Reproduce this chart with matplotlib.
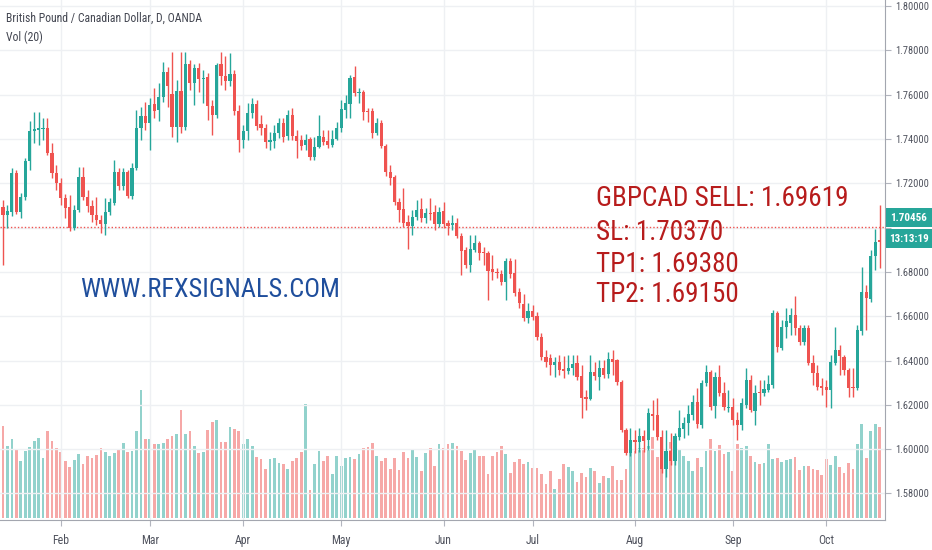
import numpy as np
import pandas as pd
import matplotlib
matplotlib.use("Agg")
import matplotlib.pyplot as plt
import matplotlib.transforms as mtrans
from matplotlib.patches import Rectangle

# GBPCAD daily, OANDA
opens = [1.7093, 1.7057, 1.7071, 1.7247, 1.7071, 1.7139, 1.7301, 1.7437, 1.7441, 1.7446,
         1.7450, 1.7337, 1.7247, 1.7202, 1.7134, 1.7093, 1.6999, 1.7080, 1.7229, 1.7139,
         1.7098, 1.7057, 1.7035, 1.7017, 1.7071, 1.7111, 1.7251, 1.7188, 1.7251, 1.7143,
         1.7270, 1.7450, 1.7504, 1.7473, 1.7558, 1.7531, 1.7590, 1.7703, 1.7604, 1.7455,
         1.7617, 1.7455, 1.7739, 1.7653, 1.7721, 1.7671, 1.7680, 1.7549, 1.7509, 1.7739,
         1.7685, 1.7662, 1.7694, 1.7527, 1.7396, 1.7437, 1.7518, 1.7558, 1.7468, 1.7450,
         1.7387, 1.7391, 1.7428, 1.7473, 1.7414, 1.7509, 1.7414, 1.7396, 1.7373, 1.7400,
         1.7319, 1.7364, 1.7409, 1.7391, 1.7373, 1.7400, 1.7450, 1.7531, 1.7558, 1.7680,
         1.7608, 1.7613, 1.7527, 1.7527, 1.7428, 1.7473, 1.7369, 1.7251, 1.7229, 1.7116,
         1.7084, 1.7026, 1.7008, 1.7048, 1.7084, 1.7044, 1.7066, 1.7071, 1.7017, 1.7075,
         1.7021, 1.7012, 1.7021, 1.6962, 1.6899, 1.6832, 1.6899, 1.6931, 1.6890, 1.6886,
         1.6813, 1.6800, 1.6791, 1.6755, 1.6850, 1.6795, 1.6710, 1.6655, 1.6592, 1.6624,
         1.6601, 1.6506, 1.6416, 1.6412, 1.6380, 1.6394, 1.6362, 1.6353, 1.6366, 1.6389,
         1.6330, 1.6236, 1.6227, 1.6348, 1.6326, 1.6366, 1.6339, 1.6407, 1.6403, 1.6303,
         1.6087, 1.5983, 1.6041, 1.6032, 1.6059, 1.6041, 1.6159, 1.6154, 1.6055, 1.5910,
         1.5992, 1.5947, 1.6055, 1.6091, 1.6118, 1.6154, 1.6213, 1.6109, 1.6299, 1.6348,
         1.6195, 1.6326, 1.6254, 1.6186, 1.6190, 1.6132, 1.6109, 1.6199, 1.6312, 1.6172,
         1.6258, 1.6254, 1.6267, 1.6290, 1.6615, 1.6457, 1.6552, 1.6570, 1.6606, 1.6547,
         1.6484, 1.6547, 1.6389, 1.6344, 1.6285, 1.6281, 1.6267, 1.6389, 1.6448, 1.6416,
         1.6357, 1.6281, 1.6276, 1.6534, 1.6710, 1.6678, 1.6872, 1.6944]
highs = [1.7125, 1.7102, 1.7270, 1.7260, 1.7157, 1.7315, 1.7482, 1.7522, 1.7522, 1.7495,
         1.7495, 1.7382, 1.7283, 1.7224, 1.7152, 1.7148, 1.7102, 1.7274, 1.7274, 1.7170,
         1.7125, 1.7139, 1.7057, 1.7134, 1.7134, 1.7306, 1.7270, 1.7270, 1.7260, 1.7292,
         1.7531, 1.7545, 1.7567, 1.7586, 1.7631, 1.7653, 1.7748, 1.7726, 1.7793, 1.7667,
         1.7793, 1.7793, 1.7757, 1.7739, 1.7744, 1.7712, 1.7698, 1.7577, 1.7744, 1.7793,
         1.7775, 1.7789, 1.7712, 1.7554, 1.7464, 1.7563, 1.7586, 1.7577, 1.7509, 1.7468,
         1.7432, 1.7464, 1.7495, 1.7495, 1.7531, 1.7540, 1.7441, 1.7419, 1.7423, 1.7409,
         1.7409, 1.7509, 1.7441, 1.7441, 1.7441, 1.7477, 1.7577, 1.7599, 1.7689, 1.7730,
         1.7631, 1.7622, 1.7540, 1.7540, 1.7495, 1.7486, 1.7378, 1.7283, 1.7238, 1.7134,
         1.7179, 1.7057, 1.7080, 1.7125, 1.7134, 1.7089, 1.7134, 1.7102, 1.7093, 1.7116,
         1.7035, 1.7057, 1.7044, 1.6976, 1.6913, 1.6967, 1.6967, 1.6940, 1.6913, 1.6895,
         1.6877, 1.6818, 1.6809, 1.6863, 1.6863, 1.6859, 1.6728, 1.6701, 1.6660, 1.6651,
         1.6619, 1.6525, 1.6448, 1.6430, 1.6416, 1.6425, 1.6421, 1.6425, 1.6425, 1.6425,
         1.6380, 1.6267, 1.6425, 1.6394, 1.6403, 1.6403, 1.6439, 1.6448, 1.6407, 1.6312,
         1.6096, 1.6096, 1.6087, 1.6096, 1.6087, 1.6186, 1.6222, 1.6231, 1.6087, 1.6087,
         1.6073, 1.6073, 1.6177, 1.6145, 1.6199, 1.6245, 1.6276, 1.6312, 1.6380, 1.6357,
         1.6348, 1.6380, 1.6303, 1.6267, 1.6231, 1.6168, 1.6231, 1.6366, 1.6335, 1.6290,
         1.6312, 1.6312, 1.6335, 1.6628, 1.6624, 1.6583, 1.6637, 1.6637, 1.6692, 1.6561,
         1.6561, 1.6561, 1.6425, 1.6380, 1.6321, 1.6312, 1.6425, 1.6552, 1.6470, 1.6425,
         1.6366, 1.6366, 1.6561, 1.6823, 1.6741, 1.6899, 1.6994, 1.7102]
lows = [1.6832, 1.6999, 1.7053, 1.7062, 1.7044, 1.7125, 1.7260, 1.7382, 1.7373, 1.7396,
        1.7328, 1.7224, 1.7170, 1.7102, 1.7044, 1.6985, 1.6990, 1.7071, 1.7125, 1.7071,
        1.7026, 1.7012, 1.6976, 1.6967, 1.7057, 1.7102, 1.7170, 1.7170, 1.7134, 1.7130,
        1.7260, 1.7396, 1.7441, 1.7351, 1.7495, 1.7482, 1.7567, 1.7545, 1.7409, 1.7387,
        1.7428, 1.7441, 1.7622, 1.7554, 1.7613, 1.7563, 1.7486, 1.7419, 1.7495, 1.7644,
        1.7622, 1.7640, 1.7509, 1.7342, 1.7360, 1.7396, 1.7495, 1.7441, 1.7419, 1.7360,
        1.7351, 1.7360, 1.7405, 1.7387, 1.7396, 1.7396, 1.7315, 1.7351, 1.7351, 1.7306,
        1.7306, 1.7360, 1.7373, 1.7360, 1.7364, 1.7396, 1.7432, 1.7495, 1.7495, 1.7595,
        1.7563, 1.7486, 1.7477, 1.7405, 1.7419, 1.7360, 1.7233, 1.7193, 1.7102, 1.7026,
        1.7003, 1.6904, 1.6967, 1.7035, 1.7026, 1.7021, 1.7035, 1.6990, 1.7003, 1.6999,
        1.6967, 1.6990, 1.6953, 1.6786, 1.6818, 1.6800, 1.6890, 1.6854, 1.6832, 1.6674,
        1.6764, 1.6773, 1.6741, 1.6674, 1.6773, 1.6692, 1.6637, 1.6579, 1.6570, 1.6583,
        1.6493, 1.6403, 1.6371, 1.6335, 1.6326, 1.6335, 1.6321, 1.6339, 1.6335, 1.6312,
        1.6141, 1.6177, 1.6222, 1.6312, 1.6267, 1.6321, 1.6321, 1.6335, 1.6290, 1.6078,
        1.5974, 1.5969, 1.5983, 1.5987, 1.5987, 1.5996, 1.6087, 1.6041, 1.5892, 1.5874,
        1.5929, 1.5929, 1.6041, 1.6050, 1.6064, 1.6132, 1.6096, 1.6096, 1.6285, 1.6177,
        1.6141, 1.6240, 1.6177, 1.6168, 1.6109, 1.6041, 1.6087, 1.6186, 1.6168, 1.6109,
        1.6199, 1.6240, 1.6258, 1.6276, 1.6439, 1.6448, 1.6502, 1.6516, 1.6516, 1.6470,
        1.6470, 1.6380, 1.6290, 1.6267, 1.6245, 1.6190, 1.6186, 1.6380, 1.6335, 1.6335,
        1.6236, 1.6236, 1.6267, 1.6516, 1.6538, 1.6664, 1.6809, 1.6818]
closes = [1.7057, 1.7075, 1.7247, 1.7071, 1.7139, 1.7301, 1.7437, 1.7446, 1.7450, 1.7450,
          1.7337, 1.7247, 1.7202, 1.7134, 1.7089, 1.6999, 1.7080, 1.7229, 1.7139, 1.7098,
          1.7057, 1.7035, 1.7017, 1.7071, 1.7116, 1.7251, 1.7188, 1.7251, 1.7143, 1.7270,
          1.7450, 1.7504, 1.7473, 1.7554, 1.7527, 1.7590, 1.7703, 1.7640, 1.7455, 1.7617,
          1.7455, 1.7739, 1.7653, 1.7721, 1.7671, 1.7676, 1.7549, 1.7509, 1.7735, 1.7685,
          1.7662, 1.7694, 1.7527, 1.7396, 1.7437, 1.7518, 1.7558, 1.7459, 1.7450, 1.7387,
          1.7396, 1.7428, 1.7473, 1.7409, 1.7509, 1.7414, 1.7391, 1.7369, 1.7396, 1.7319,
          1.7364, 1.7414, 1.7387, 1.7373, 1.7400, 1.7450, 1.7536, 1.7563, 1.7676, 1.7608,
          1.7613, 1.7522, 1.7522, 1.7428, 1.7473, 1.7369, 1.7251, 1.7224, 1.7116, 1.7080,
          1.7021, 1.7008, 1.7048, 1.7080, 1.7044, 1.7066, 1.7062, 1.7017, 1.7071, 1.7017,
          1.7008, 1.7021, 1.6962, 1.6895, 1.6832, 1.6904, 1.6931, 1.6886, 1.6886, 1.6804,
          1.6800, 1.6795, 1.6755, 1.6850, 1.6791, 1.6705, 1.6660, 1.6592, 1.6624, 1.6597,
          1.6506, 1.6416, 1.6394, 1.6380, 1.6394, 1.6357, 1.6353, 1.6366, 1.6385, 1.6326,
          1.6231, 1.6227, 1.6348, 1.6330, 1.6366, 1.6335, 1.6407, 1.6394, 1.6303, 1.6087,
          1.5983, 1.6041, 1.6032, 1.6059, 1.6037, 1.6163, 1.6150, 1.6055, 1.5910, 1.5992,
          1.5947, 1.6059, 1.6096, 1.6118, 1.6159, 1.6213, 1.6114, 1.6299, 1.6348, 1.6190,
          1.6326, 1.6254, 1.6190, 1.6190, 1.6132, 1.6109, 1.6208, 1.6312, 1.6177, 1.6254,
          1.6254, 1.6272, 1.6294, 1.6615, 1.6461, 1.6552, 1.6579, 1.6606, 1.6547, 1.6484,
          1.6547, 1.6389, 1.6344, 1.6281, 1.6276, 1.6267, 1.6394, 1.6448, 1.6421, 1.6357,
          1.6276, 1.6276, 1.6538, 1.6710, 1.6683, 1.6872, 1.6935, 1.6935]
volumes = [278, 217, 238, 208, 171, 202, 214, 232, 241, 181, 261, 232, 211, 199, 172, 155,
           175, 192, 162, 188, 182, 191, 211, 198, 188, 195, 208, 225, 199, 202, 261, 385,
           238, 238, 222, 222, 225, 238, 248, 252, 325, 252, 261, 218, 195, 198, 265, 288,
           295, 228, 228, 275, 268, 261, 222, 238, 218, 185, 178, 148, 178, 181, 165, 162,
           148, 171, 182, 198, 342, 85, 162, 202, 172, 188, 132, 188, 158, 182, 185, 178,
           192, 212, 215, 225, 188, 172, 182, 148, 182, 145, 198, 182, 205, 185, 142, 195,
           212, 158, 222, 212, 222, 225, 218, 202, 175, 195, 205, 188, 188, 132, 188, 198,
           218, 192, 135, 168, 178, 162, 168, 152, 152, 132, 102, 142, 88, 118, 162, 155,
           142, 108, 135, 125, 150, 142, 105, 128, 120, 158, 115, 115, 148, 195, 202, 210,
           212, 218, 245, 185, 162, 200, 230, 220, 205, 188, 172, 142, 182, 155, 202, 238,
           202, 220, 192, 198, 142, 222, 212, 217, 188, 168, 162, 165, 222, 178, 182, 168,
           175, 178, 185, 145, 158, 158, 148, 145, 130, 178, 160, 188, 155, 135, 165, 148,
           222, 282, 180, 262, 282, 275]
dates = pd.bdate_range("2019-01-15", periods=len(closes))

price_ticks = [1.58, 1.60, 1.62, 1.64, 1.66, 1.68, 1.70, 1.72, 1.74, 1.76, 1.78, 1.80]
last_price = 1.70456
countdown = "13:13:19"
line_level = 1.7002

title = "British Pound / Canadian Dollar, D, OANDA"
vol_title = "Vol (20)"
signal_lines = ["GBPCAD SELL: 1.69619", "SL: 1.70370", "TP1: 1.69380", "TP2: 1.69150"]
watermark = "WWW.RFXSIGNALS.COM"

UP = "#26a69a"
DOWN = "#ef5350"
GRID = "#eef0f3"
AXTXT = "#50535e"
NARROW = ["Liberation Sans Narrow", "Roboto Condensed", "DejaVu Sans"]

plt.rcParams["font.family"] = NARROW

W, H = 932, 550
fig = plt.figure(figsize=(W / 100, H / 100), dpi=100)
fig.patch.set_facecolor("white")
ax = fig.add_axes([0, 30 / H, 885 / W, 520 / H])
axv = ax.twinx()

x = np.arange(len(closes))
o = np.array(opens)
c = np.array(closes)
up = c >= o
cols = np.where(up, UP, DOWN)

# volume in the back
axv.bar(x, volumes, width=0.62, color=cols, alpha=0.5, linewidth=0)
axv.set_ylim(-5, 1555)
axv.axis("off")
ax.set_zorder(axv.get_zorder() + 1)
ax.patch.set_visible(False)

# candles
ax.vlines(x, lows, highs, colors=cols, linewidth=1, zorder=3)
body = np.maximum(np.abs(c - o), 0.00045)
ax.bar(x, body, bottom=np.minimum(o, c), width=0.72, color=cols, linewidth=0, zorder=4)

ax.axhline(line_level, color=DOWN, linestyle=(0, (1, 1.5)), linewidth=1, zorder=2)

ax.set_xlim(-0.67, 198.2)
ax.set_ylim(1.5680, 1.8028)

month_idx = [i for i in range(1, len(dates)) if dates[i].month != dates[i - 1].month]
ax.set_xticks(month_idx)
ax.set_xticklabels([dates[i].strftime("%b") for i in month_idx])
ax.yaxis.tick_right()
ax.set_yticks(price_ticks)
# the 1.70000 label sits under the last-price tag, so it is left blank
ax.set_yticklabels(["" if abs(t - 1.70) < 1e-9 else f"{t:.5f}" for t in price_ticks])
ax.tick_params(axis="both", colors="#b2b5be", labelcolor=AXTXT, length=4)
ax.tick_params(axis="x", labelsize=8.5, pad=6)
ax.tick_params(axis="y", labelsize=7.5, pad=3)
ax.grid(True, color=GRID, linewidth=1, zorder=0)
for s in ["top", "left"]:
    ax.spines[s].set_visible(False)
for s in ["right", "bottom"]:
    ax.spines[s].set_color("#a3a6af")

# last price and countdown labels on the price scale
blend = mtrans.blended_transform_factory(ax.transAxes, ax.transData)
box_h = 0.0086
for txt, lvl in [(f"{last_price:.5f}", last_price), (countdown, last_price - 0.0095)]:
    ax.add_patch(Rectangle((1.001, lvl - box_h / 2), 0.052, box_h, transform=blend,
                           facecolor=UP, edgecolor="none", clip_on=False, zorder=10))
    ax.text(1.027, lvl, txt, transform=blend, color="white", fontsize=8,
            fontweight="bold", ha="center", va="center", clip_on=False, zorder=11)

fig.text(6 / W, 1 - 18 / H, title, color="#434651", fontsize=8.5, va="center")
fig.text(6 / W, 1 - 37 / H, vol_title, color="#434651", fontsize=8.5, va="center")

for txt, yy in zip(signal_lines, [198, 233, 264, 294]):
    fig.text(596 / W, 1 - yy / H, txt, color="#b71c1c", fontsize=19.5, va="center")
fig.text(80 / W, 1 - 290 / H, watermark, color="#1f4e9c", fontsize=19, va="center")

fig.savefig("out.png", dpi=100)
